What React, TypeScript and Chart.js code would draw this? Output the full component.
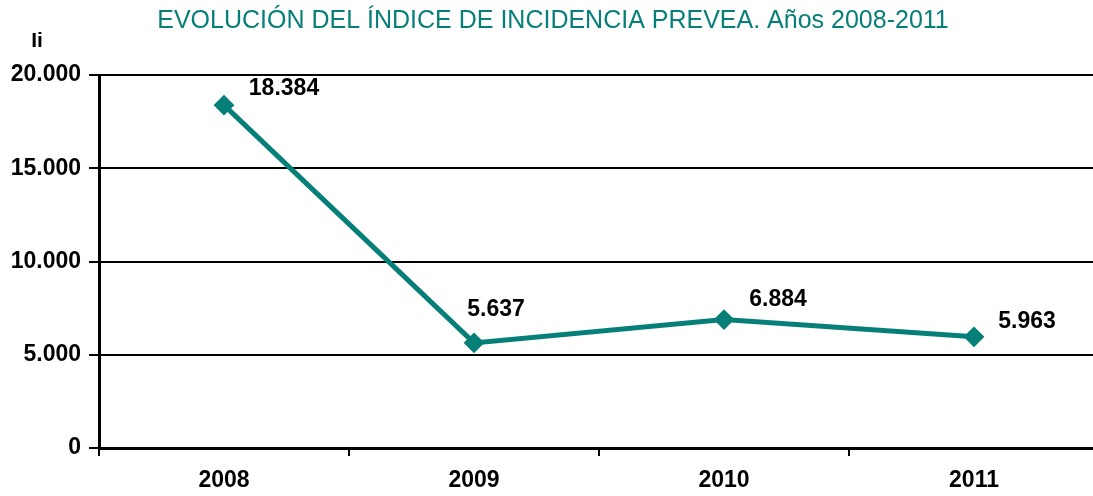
import React, { useEffect, useRef } from "react";
import { Chart, registerables } from "chart.js";

Chart.register(...registerables);

const years = ["2008", "2009", "2010", "2011"];
const incidence = [18384, 5637, 6884, 5963];
const yTicks = [0, 5000, 10000, 15000, 20000];
const titleText = "EVOLUCIÓN DEL ÍNDICE DE INCIDENCIA PREVEA. Años 2008-2011";
const yAxisLabel = "Ii";
// label offsets relative to each point (px)
const labelOffsets = [
  [60, -16],
  [22, -33],
  [54, -20],
  [53, -15],
];

const TEAL = "#067f79";
const FONT = "'Liberation Sans', Arial, Helvetica, sans-serif";

const fmt = (v: number) => {
  const s = Math.round(v).toString();
  return s.replace(/\B(?=(\d{3})+(?!\d))/g, ".");
};

const decorPlugin = {
  id: "decor",
  afterDraw(chart: any) {
    const ctx = chart.ctx;
    ctx.save();
    ctx.fillStyle = TEAL;
    ctx.font = `25px ${FONT}`;
    ctx.textAlign = "center";
    ctx.textBaseline = "middle";
    ctx.fillText(titleText, 553, 21);
    ctx.fillStyle = "#000";
    ctx.font = `bold 21px ${FONT}`;
    ctx.textAlign = "center";
    ctx.fillText(yAxisLabel, 37, 41);
    ctx.restore();
  },
  afterDatasetsDraw(chart: any) {
    const ctx = chart.ctx;
    const meta = chart.getDatasetMeta(0);
    ctx.save();
    ctx.fillStyle = "#000";
    ctx.font = `bold 23px ${FONT}`;
    ctx.textAlign = "center";
    ctx.textBaseline = "middle";
    meta.data.forEach((pt: any, i: number) => {
      const [dx, dy] = labelOffsets[i];
      ctx.fillText(fmt(incidence[i]), pt.x + dx, pt.y + dy);
    });
    ctx.restore();
  },
};

export default function App() {
  const ref = useRef<HTMLCanvasElement | null>(null);
  useEffect(() => {
    if (!ref.current) return;
    const chart = new Chart(ref.current, {
      type: "line",
      data: {
        labels: years,
        datasets: [
          {
            data: incidence,
            borderColor: TEAL,
            backgroundColor: TEAL,
            borderWidth: 5,
            pointStyle: "rectRot",
            pointRadius: 9,
            pointBorderWidth: 2,
            pointBackgroundColor: TEAL,
            pointBorderColor: TEAL,
            tension: 0,
          },
        ],
      },
      options: {
        responsive: false,
        animation: false,
        devicePixelRatio: 1,
        layout: { padding: { top: 75, right: 7, left: 0, bottom: 0 } },
        plugins: {
          legend: { display: false },
          tooltip: { enabled: false },
          title: { display: false },
        },
        scales: {
          x: {
            type: "category",
            offset: true,
            afterFit(scale: any) {
              scale.height = 48;
            },
            grid: {
              offset: true,
              drawOnChartArea: false,
              drawTicks: true,
              tickLength: 8,
              color: "#000",
              lineWidth: 2,
            },
            border: { display: true, color: "#000", width: 3 },
            ticks: {
              color: "#000",
              font: { family: FONT, size: 23, weight: "bold" },
              padding: 11,
              maxRotation: 0,
            },
          },
          y: {
            min: 0,
            max: 20000,
            afterFit(scale: any) {
              scale.width = 99;
            },
            afterBuildTicks(scale: any) {
              scale.ticks = yTicks.map((v) => ({ value: v }));
            },
            grid: {
              color: "#000",
              lineWidth: 2,
              drawTicks: true,
              tickLength: 10,
            },
            border: { display: true, color: "#000", width: 3 },
            ticks: {
              color: "#000",
              font: { family: FONT, size: 23, weight: "bold" },
              padding: 8,
              callback: (v: any) => fmt(Number(v)),
            },
          },
        },
      },
      plugins: [decorPlugin],
    });
    return () => chart.destroy();
  }, []);
  return (
    <div
      style={{
        position: "fixed",
        left: 0,
        top: 0,
        width: 1093,
        height: 496,
        overflow: "hidden",
        background: "#fff",
      }}
    >
      <canvas ref={ref} width={1110} height={496} style={{ width: 1110, height: 496, display: "block" }} />
    </div>
  );
}
